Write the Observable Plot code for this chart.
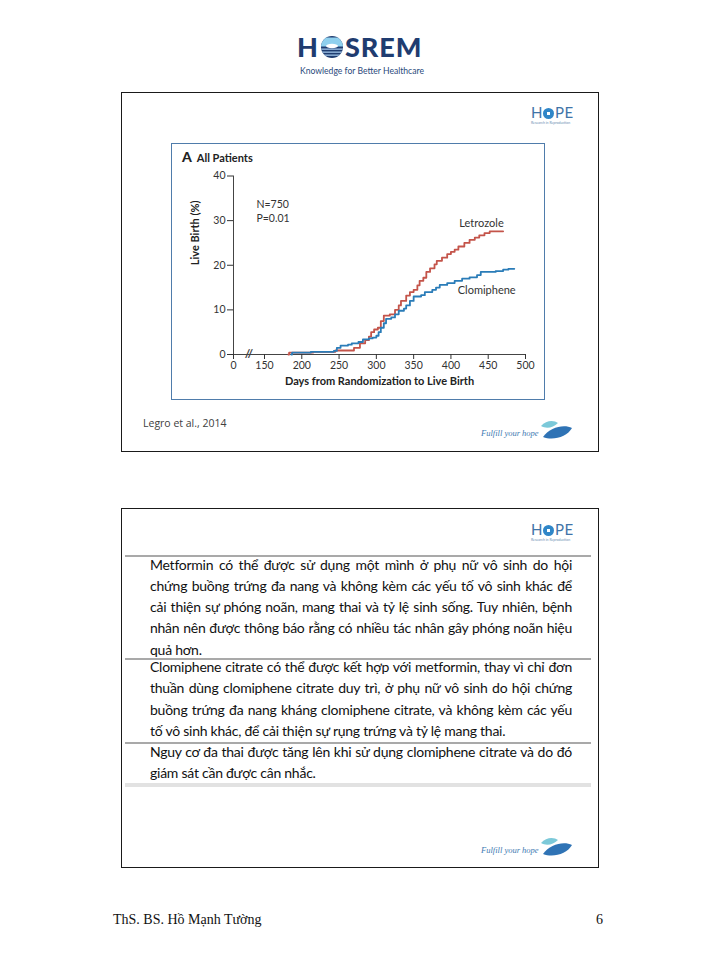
<!DOCTYPE html>
<html>
<head>
<meta charset="utf-8">
<script src="https://cdn.jsdelivr.net/npm/d3@7"></script>
<script src="https://cdn.jsdelivr.net/npm/@observablehq/plot@0.6"></script>
<style>
  body { margin: 0; background: #fff; }
  #page { position: relative; width: 720px; height: 960px; background: #fff; overflow: hidden; font-family: "Noto Sans", sans-serif; }
  .abs { position: absolute; }
  .slide { position: absolute; left: 121px; width: 478px; height: 360px; border: 1.5px solid #1a1a1a; box-sizing: border-box; }
  .hope { position: absolute; font-family: "Lato", sans-serif; color: #3f74a8; font-size: 15px; letter-spacing: 0.5px; line-height: 15px; white-space: nowrap; }
  .hope small { display: block; font-size: 3.5px; letter-spacing: 0; color: #6c8fb3; line-height: 4px; margin-top: 1px; }
  .fyh { position: absolute; font-family: "Liberation Serif", serif; font-style: italic; font-size: 8.5px; color: #3d7ab2; white-space: nowrap; }
  .para { position: absolute; left: 150px; width: 422px; font-family: "Lato", sans-serif; font-size: 14px; letter-spacing: -0.25px; line-height: 21.3px; color: #111; }
  .para div { white-space: nowrap; text-align: justify; text-align-last: justify; height: 21.3px; }
  .para div.last { text-align-last: left; }
  .sep { position: absolute; left: 125px; width: 466px; height: 1.5px; background: #a9a9a9; }
</style>
</head>
<body>
<div id="page">
  <!-- header logo -->
  <div class="abs" style="left:297px; top:33px; white-space:nowrap; font-family:'Lato',sans-serif; font-weight:900; font-size:27px; line-height:28px; color:#1f3c70; letter-spacing:1px;">H<svg width="24" height="24" viewBox="0 0 24 24" style="vertical-align:-2px; margin:0 1px">
      <defs><clipPath id="oc"><circle cx="12" cy="12" r="11"/></clipPath></defs>
      <g clip-path="url(#oc)">
        <rect x="0" y="0" width="24" height="24" fill="#1f3c70"/>
        <rect x="0" y="2.5" width="24" height="9" fill="#8fd0ee"/>
        <ellipse cx="12" cy="11" rx="6" ry="2.2" fill="#ffffff"/>
        <rect x="0" y="13.5" width="24" height="1.3" fill="#9fc3e6"/>
        <rect x="0" y="16.5" width="24" height="1.3" fill="#9fc3e6"/>
        <rect x="0" y="19.5" width="24" height="1.3" fill="#9fc3e6"/>
      </g>
    </svg>SREM</div>
  <div class="abs" style="left:300px; top:66px; width:122px; text-align:center; font-family:'Lato',sans-serif; font-size:8.6px; color:#2a4a7c; white-space:nowrap;">Knowledge for Better Healthcare</div>

  <!-- slide 1 -->
  <div class="slide" style="top:92px;"></div>
  <div class="hope" style="left:531px; top:105px;">H<span style="display:inline-block;width:11px;height:11px;border-radius:50%;background:radial-gradient(circle at 50% 50%, #fff 0 22%, #2f86c8 24% 100%);vertical-align:-1px;margin:0 0.5px"></span>PE<small>Research in Reproduction</small></div>
  <div class="abs" style="left:171px; top:143px; width:374px; height:257px; border:1px solid #4f7cab; box-sizing:border-box;"></div>
  <div id="chart" class="abs" style="left:171px; top:143px; width:374px; height:257px;"></div>
  <div class="abs" style="left:182px; top:146px; font-family:'Lato',sans-serif; font-weight:900; color:#222; white-space:nowrap;"><span style="font-size:14px;">A</span><span style="font-size:11px; font-weight:bold; margin-left:5px;">All Patients</span></div>
  <div class="abs" style="left:143px; top:416px; font-family:'Open Sans',sans-serif; font-size:10.5px; color:#404040; white-space:nowrap;">Legro et al., 2014</div>
  <div class="fyh" style="left:481px; top:428px;">Fulfill your hope</div>
  <svg class="abs" style="left:538px; top:419px;" width="36" height="22" viewBox="0 0 36 22">
    <path d="M3 7 C8 1, 16 1, 20 4 C15 9, 8 10, 3 7 Z" fill="#7cc9d9"/>
    <path d="M5 18 C12 8, 26 5, 34 9 C29 18, 15 22, 5 18 Z" fill="#2f73b5"/>
  </svg>

  <!-- slide 2 -->
  <div class="slide" style="top:508px;"></div>
  <div class="hope" style="left:531px; top:522px;">H<span style="display:inline-block;width:11px;height:11px;border-radius:50%;background:radial-gradient(circle at 50% 50%, #fff 0 22%, #2f86c8 24% 100%);vertical-align:-1px;margin:0 0.5px"></span>PE<small>Research in Reproduction</small></div>
  <div class="sep" style="top:555px;"></div>
  <div class="para" style="top:553.5px;">
    <div>Metformin có thể được sử dụng một mình ở phụ nữ vô sinh do hội</div>
    <div>chứng buồng trứng đa nang và không kèm các yếu tố vô sinh khác để</div>
    <div>cải thiện sự phóng noãn, mang thai và tỷ lệ sinh sống. Tuy nhiên, bệnh</div>
    <div>nhân nên được thông báo rằng có nhiều tác nhân gây phóng noãn hiệu</div>
    <div class="last">quả hơn.</div>
  </div>
  <div class="sep" style="top:658px;"></div>
  <div class="para" style="top:656px;">
    <div>Clomiphene citrate có thể được kết hợp với metformin, thay vì chỉ đơn</div>
    <div>thuần dùng clomiphene citrate duy trì, ở phụ nữ vô sinh do hội chứng</div>
    <div>buồng trứng đa nang kháng clomiphene citrate, và không kèm các yếu</div>
    <div class="last">tố vô sinh khác, để cải thiện sự rụng trứng và tỷ lệ mang thai.</div>
  </div>
  <div class="sep" style="top:742px;"></div>
  <div class="para" style="top:741px;">
    <div>Nguy cơ đa thai được tăng lên khi sử dụng clomiphene citrate và do đó</div>
    <div class="last">giám sát cần được cân nhắc.</div>
  </div>
  <div class="abs" style="left:125px; top:783px; width:466px; height:4px; background:#e2e2e2;"></div>
  <div class="fyh" style="left:481px; top:845px;">Fulfill your hope</div>
  <svg class="abs" style="left:538px; top:836px;" width="36" height="22" viewBox="0 0 36 22">
    <path d="M3 7 C8 1, 16 1, 20 4 C15 9, 8 10, 3 7 Z" fill="#7cc9d9"/>
    <path d="M5 18 C12 8, 26 5, 34 9 C29 18, 15 22, 5 18 Z" fill="#2f73b5"/>
  </svg>

  <!-- footer -->
  <div class="abs" style="left:113px; top:912px; font-family:'Liberation Serif',serif; font-size:14px; color:#111; white-space:nowrap;">ThS. BS. Hồ Mạnh Tường</div>
  <div class="abs" style="left:596px; top:912px; font-family:'Liberation Serif',serif; font-size:14px; color:#111;">6</div>
</div>

<script>
// ---- data (Kaplan–Meier style cumulative live birth) ----
const letrozoleDay = [182,183,215,245,270,278,285,290,293,297,302,306,310,318,325,330,333,340,345,350,355,358,363,367,372,378,381,388,395,400,405,410,418,425,432,438,445,452,470];
const letrozolePct = [0,0.4,0.6,0.9,1.5,2.5,3.2,4.0,5.0,5.6,6.0,7.5,8.7,9.0,10.0,11.0,12.0,13.2,14.0,14.5,15.5,16.5,17.2,18.5,19.3,20.2,21.0,21.7,22.5,23.0,23.5,24.2,25.0,25.7,26.2,26.7,27.2,27.6,27.6];
const clomipheneDay = [186,187,212,243,247,252,262,267,276,282,290,295,300,303,306,310,313,320,325,330,337,340,345,350,360,365,375,380,385,395,405,415,425,435,440,460,470,477,485];
const clomiphenePct = [0,0.4,0.6,0.8,1.5,2.0,2.2,2.5,2.8,3.4,3.6,3.8,4.2,5.0,6.0,7.0,8.0,8.3,9.0,9.8,10.3,11.0,12.0,13.0,13.3,14.0,14.5,15.0,15.6,16.0,16.5,17.0,17.3,17.8,18.5,18.7,19.0,19.2,19.2];

const xTicks = [0,150,200,250,300,350,400,450,500];
const yTicks = [0,10,20,30,40];
const seriesNames = ["Letrozole","Clomiphene"];
const statsText = "N=750\nP=0.01";
const xLabel = "Days from Randomization to Live Birth";
const yLabel = "Live Birth (%)";

const series = [
  {name: seriesNames[0], days: letrozoleDay, pct: letrozolePct, color: "#c4544a"},
  {name: seriesNames[1], days: clomipheneDay, pct: clomiphenePct, color: "#2a7cb8"}
];
const rows = series.flatMap(s => s.days.map((d, i) => ({series: s.name, day: d, pct: s.pct[i]})));
const labelRows = [
  {text: seriesNames[0], day: 441, pct: 29.4},
  {text: seriesNames[1], day: 448, pct: 14.3}
];

const chart = Plot.plot({
  width: 374,
  height: 257,
  marginLeft: 62,
  marginRight: 20,
  marginTop: 32.5,
  marginBottom: 46,
  style: {fontFamily: "Lato, sans-serif", fontSize: "10px", color: "#333", background: "transparent", overflow: "visible"},
  x: {type: "linear", domain: [0, 150, 500], range: [62, 93, 354]},
  y: {domain: [0, 40]},
  color: {domain: seriesNames, range: series.map(s => s.color)},
  marks: [
    Plot.ruleY([0], {x1: 0, x2: 500, stroke: "#444", strokeWidth: 1}),
    Plot.ruleX([0], {y1: 0, y2: 40, stroke: "#444", strokeWidth: 1}),
    Plot.axisX({ticks: xTicks, tickSize: 5, tickPadding: 2, label: null, tickFormat: d => String(d), fontSize: 10.5}),
    Plot.axisY({ticks: yTicks, tickSize: 6, tickPadding: 2, label: null, fontSize: 10.5}),
    Plot.text(["//"], {x: () => 75, y: () => 0, fontSize: 12, fontWeight: "bold", fill: "#444"}),
    Plot.line(rows, {x: "day", y: "pct", z: "series", stroke: "series", curve: "step-after", strokeWidth: 1.8}),
    Plot.text(labelRows, {x: "day", y: "pct", text: "text", fontSize: 11, fill: "#333"}),
    Plot.text([statsText], {x: () => 111, y: () => 32.3, textAnchor: "start", lineHeight: 1.35, fontSize: 10.5, fill: "#333"}),
    Plot.text([xLabel], {frameAnchor: "bottom", dy: 30, fontSize: 11, fontWeight: "bold", fill: "#222"}),
    Plot.text([yLabel], {frameAnchor: "left", dx: -38, rotate: -90, fontSize: 11, fontWeight: "bold", fill: "#222"})
  ]
});
document.getElementById("chart").appendChild(chart);
</script>
</body>
</html>
